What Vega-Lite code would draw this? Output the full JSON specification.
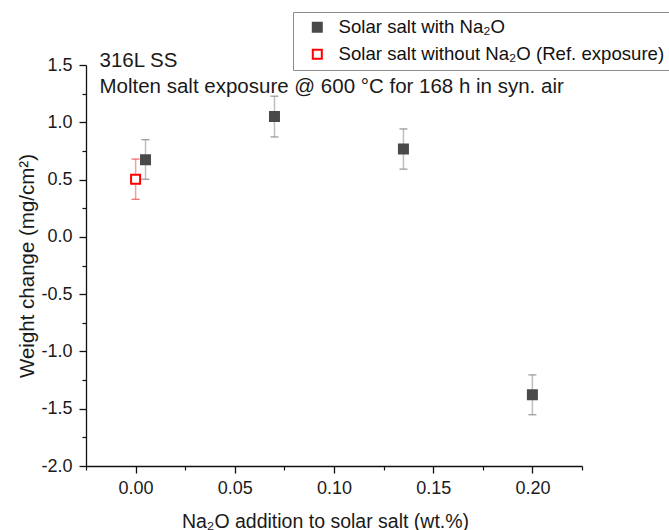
{
  "$schema": "https://vega.github.io/schema/vega-lite/v6.json",
  "width": 496,
  "height": 401,
  "autosize": {"type": "none"},
  "padding": {"left": 86, "top": 65, "right": 87, "bottom": 64},
  "background": "white",
  "config": {
    "view": {"stroke": null},
    "font": "Liberation Sans",
    "axis": {"grid": false}
  },
  "datasets": {
    "points": [
      {"series": "Solar salt with Na₂O", "x": 0.005, "y": 0.673, "lo": 0.503, "hi": 0.848},
      {"series": "Solar salt with Na₂O", "x": 0.07, "y": 1.05, "lo": 0.872, "hi": 1.228},
      {"series": "Solar salt with Na₂O", "x": 0.135, "y": 0.767, "lo": 0.591, "hi": 0.942},
      {"series": "Solar salt with Na₂O", "x": 0.2, "y": -1.378, "lo": -1.553, "hi": -1.205},
      {"series": "Solar salt without Na₂O (Ref. exposure)", "x": 0.0, "y": 0.503, "lo": 0.328, "hi": 0.679}
    ],
    "notes": [
      {"label": "316L SS", "x": -0.0182, "y": 1.482},
      {"label": "Molten salt exposure @ 600 °C for 168 h in syn. air", "x": -0.0182, "y": 1.255}
    ]
  },
  "layer": [
    {
      "data": {"name": "points"},
      "mark": {"type": "rule", "opacity": 0.55, "strokeWidth": 1.5},
      "encoding": {
        "x": {
          "field": "x", "type": "quantitative",
          "scale": {"domain": [-0.025, 0.225], "nice": false, "zero": false},
          "axis": {
            "orient": "bottom",
            "values": [-0.025, 0.025, 0.075, 0.125, 0.175, 0.225],
            "labels": false, "domain": false, "title": null,
            "tickSize": 4, "tickWidth": 1.2, "tickColor": "#111111"
          }
        },
        "y": {
          "field": "lo", "type": "quantitative",
          "scale": {"domain": [-2, 1.5], "nice": false, "zero": false},
          "axis": {
            "orient": "left",
            "values": [-1.75, -1.25, -0.75, -0.25, 0.25, 0.75, 1.25],
            "labels": false, "domain": false, "title": null,
            "tickSize": 4, "tickWidth": 1.2, "tickColor": "#111111"
          }
        },
        "y2": {"field": "hi"},
        "color": {
          "condition": {"test": "datum.series == 'Solar salt with Na₂O'", "value": "#8a8a8a"},
          "value": "#f05050"
        }
      }
    },
    {
      "data": {"name": "points"},
      "mark": {"type": "tick", "orient": "horizontal", "size": 8, "thickness": 1.2, "opacity": 0.9},
      "encoding": {
        "x": {"field": "x", "type": "quantitative", "axis": null},
        "y": {"field": "lo", "type": "quantitative", "axis": null},
        "color": {
          "condition": {"test": "datum.series == 'Solar salt with Na₂O'", "value": "#8a8a8a"},
          "value": "#f05050"
        }
      }
    },
    {
      "data": {"name": "points"},
      "mark": {"type": "tick", "orient": "horizontal", "size": 8, "thickness": 1.2, "opacity": 0.9},
      "encoding": {
        "x": {"field": "x", "type": "quantitative", "axis": null},
        "y": {"field": "hi", "type": "quantitative", "axis": null},
        "color": {
          "condition": {"test": "datum.series == 'Solar salt with Na₂O'", "value": "#8a8a8a"},
          "value": "#f05050"
        }
      }
    },
    {
      "data": {"name": "points"},
      "mark": {"type": "point", "shape": "square", "filled": true, "size": 81, "strokeWidth": 2, "opacity": 1},
      "encoding": {
        "x": {
          "field": "x", "type": "quantitative",
          "axis": {
            "orient": "bottom",
            "values": [0, 0.05, 0.1, 0.15, 0.2],
            "format": ".2f",
            "tickSize": 7, "tickWidth": 1.3, "tickColor": "#111111",
            "domainColor": "#111111", "domainWidth": 1.3,
            "labelFontSize": 18, "labelColor": "#1a1a1a", "labelPadding": 6,
            "title": "Na₂O addition to solar salt (wt.%)",
            "titleFontSize": 19.5, "titleFontWeight": "normal", "titleColor": "#1a1a1a",
            "titleX": 239, "titleY": 61, "titleBaseline": "alphabetic", "titleAlign": "center"
          }
        },
        "y": {
          "field": "y", "type": "quantitative",
          "axis": {
            "orient": "left",
            "values": [-2, -1.5, -1, -0.5, 0, 0.5, 1, 1.5],
            "labelExpr": "replace(format(datum.value, '.1f'), '\u2212', '-')",
            "tickSize": 7, "tickWidth": 1.3, "tickColor": "#111111",
            "domainColor": "#111111", "domainWidth": 1.3,
            "labelFontSize": 18, "labelColor": "#1a1a1a", "labelPadding": 7,
            "title": "Weight change (mg/cm²)",
            "titleFontSize": 20.5, "titleFontWeight": "normal", "titleColor": "#1a1a1a",
            "titlePadding": 3
          }
        },
        "fill": {
          "field": "series", "type": "nominal",
          "scale": {"domain": ["Solar salt with Na₂O", "Solar salt without Na₂O (Ref. exposure)"], "range": ["#4a4a4a", "#ffffff"]},
          "legend": {
            "title": null,
            "orient": "none", "legendX": 207, "legendY": -53,
            "strokeColor": "#8c8c8c", "fillColor": "white",
            "padding": 6, "rowPadding": 8,
            "labelFontSize": 18.6, "labelColor": "#111111", "labelOffset": 12,
            "symbolOffset": 9, "symbolType": "square", "symbolSize": 81, "symbolStrokeWidth": 2,
            "labelLimit": 400
          }
        },
        "stroke": {
          "field": "series", "type": "nominal",
          "scale": {"domain": ["Solar salt with Na₂O", "Solar salt without Na₂O (Ref. exposure)"], "range": ["#4a4a4a", "#ff0000"]},
          "legend": {
            "title": null,
            "orient": "none", "legendX": 207, "legendY": -53,
            "strokeColor": "#8c8c8c", "fillColor": "white",
            "padding": 6, "rowPadding": 8,
            "labelFontSize": 18.6, "labelColor": "#111111", "labelOffset": 12,
            "symbolOffset": 9, "symbolType": "square", "symbolSize": 81, "symbolStrokeWidth": 2,
            "labelLimit": 400
          }
        }
      }
    },
    {
      "data": {"name": "notes"},
      "mark": {"type": "text", "align": "left", "baseline": "alphabetic", "fontSize": 20.5, "color": "#1a1a1a"},
      "encoding": {
        "x": {"field": "x", "type": "quantitative", "axis": null},
        "y": {"field": "y", "type": "quantitative", "axis": null},
        "text": {"field": "label", "type": "nominal"}
      }
    }
  ],
  "resolve": {"axis": {"x": "independent", "y": "independent"}}
}
